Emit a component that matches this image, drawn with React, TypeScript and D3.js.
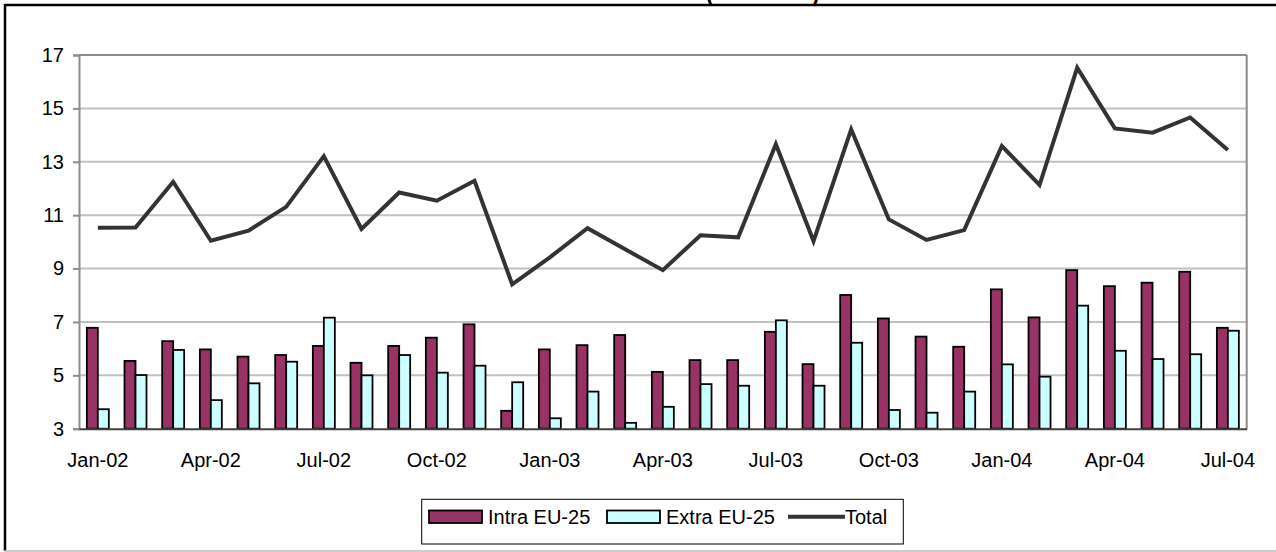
import React, { useRef, useEffect } from "react";
import * as d3 from "d3";

const months = [
  "Jan-02", "Feb-02", "Mar-02", "Apr-02", "May-02", "Jun-02", "Jul-02", "Aug-02", "Sep-02", "Oct-02", "Nov-02", "Dec-02",
  "Jan-03", "Feb-03", "Mar-03", "Apr-03", "May-03", "Jun-03", "Jul-03", "Aug-03", "Sep-03", "Oct-03", "Nov-03", "Dec-03",
  "Jan-04", "Feb-04", "Mar-04", "Apr-04", "May-04", "Jun-04", "Jul-04",
];

const intraEU = [
  6.78, 5.54, 6.28, 5.97, 5.7, 5.76, 6.1, 5.47, 6.1, 6.41, 6.91, 3.67,
  5.97, 6.13, 6.51, 5.13, 5.57, 5.57, 6.63, 5.42, 8.01, 7.13, 6.45, 6.07,
  8.22, 7.17, 8.94, 8.34, 8.47, 8.88, 6.78,
];

const extraEU = [
  3.73, 5.01, 5.95, 4.07, 4.7, 5.51, 7.16, 5.0, 5.76, 5.1, 5.36, 4.74,
  3.39, 4.39, 3.22, 3.82, 4.67, 4.61, 7.06, 4.61, 6.22, 3.7, 3.6, 4.39,
  5.41, 4.95, 7.61, 5.92, 5.61, 5.79, 6.67,
];

const total = [
  10.53, 10.54, 12.25, 10.04, 10.42, 11.31, 13.21, 10.48, 11.85, 11.54, 12.29, 8.41,
  9.42, 10.51, 9.72, 8.94, 10.25, 10.17, 13.66, 10.03, 14.21, 10.84, 10.07, 10.44,
  13.59, 12.13, 16.52, 14.25, 14.09, 14.66, 13.44,
];

const yTicks = [3, 5, 7, 9, 11, 13, 15, 17];
const xTickLabels = ["Jan-02", "Apr-02", "Jul-02", "Oct-02", "Jan-03", "Apr-03", "Jul-03", "Oct-03", "Jan-04", "Apr-04", "Jul-04"];

const W = 1276;
const H = 552;
const FONT = "'Liberation Sans', Arial, sans-serif";

export default function App() {
  const svgRef = useRef<SVGSVGElement>(null);

  useEffect(() => {
    const svg = d3.select(svgRef.current);
    svg.selectAll("*").remove();

    const left = 79, right = 1246.7, top = 55, bottom = 428.7;

    const x = d3.scaleBand<string>().domain(months).range([left, right]).padding(0);
    const y = d3.scaleLinear().domain([3, 17]).range([bottom, top]);
    const barW = x.step() * 0.292;
    const cx = (m: string) => (x(m) as number) + x.bandwidth() / 2;

    // outer frame
    svg.append("line").attr("x1", 5).attr("x2", W).attr("y1", 5).attr("y2", 5)
      .attr("stroke", "#000").attr("stroke-width", 2.5);
    svg.append("line").attr("x1", 5).attr("x2", 5).attr("y1", 4).attr("y2", 551)
      .attr("stroke", "#000").attr("stroke-width", 2.5);
    svg.append("line").attr("x1", 4).attr("x2", W).attr("y1", 551).attr("y2", 551)
      .attr("stroke", "#bbb").attr("stroke-width", 1.5);

    // clipped title remnants (the title sits above the visible area)
    svg.append("text").attr("x", 706).attr("y", 1).attr("font-family", FONT)
      .attr("font-weight", "bold").attr("font-size", 22).text("(");
    svg.append("text").attr("x", 812).attr("y", 1).attr("font-family", FONT)
      .attr("font-weight", "bold").attr("font-size", 22).text(")");

    // gridlines
    svg.append("g").selectAll("line").data(yTicks.slice(1)).join("line")
      .attr("x1", left).attr("x2", right)
      .attr("y1", (d) => y(d)).attr("y2", (d) => y(d))
      .attr("stroke", (d) => (d === 17 ? "#8c8c8c" : "#c0c0c0"))
      .attr("stroke-width", 2);
    svg.append("line").attr("x1", right).attr("x2", right).attr("y1", top).attr("y2", bottom)
      .attr("stroke", "#8c8c8c").attr("stroke-width", 2);

    // y axis
    const yAxis = svg.append("g").attr("transform", `translate(${left},0)`)
      .call(d3.axisLeft(y).tickValues(yTicks).tickSize(6).tickPadding(9).tickFormat(d3.format("d")));
    yAxis.select(".domain").attr("stroke", "#8c8c8c").attr("stroke-width", 2);
    yAxis.selectAll(".tick line").attr("stroke", "#8c8c8c").attr("stroke-width", 2);
    yAxis.selectAll("text").attr("font-family", FONT).attr("font-size", 20).attr("fill", "#000");

    // bars
    const bars = svg.append("g");
    bars.selectAll("rect.intra").data(intraEU).join("rect").attr("class", "intra")
      .attr("x", (_, i) => cx(months[i]) - barW)
      .attr("y", (d) => y(d)).attr("width", barW).attr("height", (d) => y(3) - y(d))
      .attr("fill", "#993366").attr("stroke", "#000").attr("stroke-width", 1.8);
    bars.selectAll("rect.extra").data(extraEU).join("rect").attr("class", "extra")
      .attr("x", (_, i) => cx(months[i]))
      .attr("y", (d) => y(d)).attr("width", barW).attr("height", (d) => y(3) - y(d))
      .attr("fill", "#ccffff").attr("stroke", "#000").attr("stroke-width", 1.8);

    // x axis
    const xAxis = svg.append("g").attr("transform", `translate(0,${bottom})`)
      .call(d3.axisBottom(x).tickValues(xTickLabels).tickSize(0).tickPadding(24));
    xAxis.select(".domain").attr("stroke", "#404040").attr("stroke-width", 2);
    xAxis.selectAll("text").attr("font-family", FONT).attr("font-size", 20).attr("fill", "#000");

    // total line
    const line = d3.line<number>().x((_, i) => cx(months[i])).y((d) => y(d));
    svg.append("path").datum(total).attr("d", line).attr("fill", "none")
      .attr("stroke", "#333333").attr("stroke-width", 4).attr("stroke-linejoin", "miter");

    // legend
    const lg = svg.append("g");
    lg.append("rect").attr("x", 421.7).attr("y", 499.3).attr("width", 481.6).attr("height", 44.7)
      .attr("fill", "#fff").attr("stroke", "#000").attr("stroke-width", 1);
    lg.append("rect").attr("x", 429).attr("y", 510.5).attr("width", 53).attr("height", 12.5)
      .attr("fill", "#993366").attr("stroke", "#000").attr("stroke-width", 1.8);
    lg.append("text").attr("x", 488).attr("y", 523.5).attr("font-family", FONT).attr("font-size", 20).text("Intra EU-25");
    lg.append("rect").attr("x", 607).attr("y", 510.5).attr("width", 53).attr("height", 12.5)
      .attr("fill", "#ccffff").attr("stroke", "#000").attr("stroke-width", 1.8);
    lg.append("text").attr("x", 666).attr("y", 523.5).attr("font-family", FONT).attr("font-size", 20).text("Extra EU-25");
    lg.append("line").attr("x1", 788).attr("x2", 845).attr("y1", 516.8).attr("y2", 516.8)
      .attr("stroke", "#333333").attr("stroke-width", 4);
    lg.append("text").attr("x", 845).attr("y", 523.5).attr("font-family", FONT).attr("font-size", 20).text("Total");
  }, []);

  return (
    <div style={{ position: "fixed", left: 0, top: 0 }}>
      <svg ref={svgRef} width={W} height={H} style={{ display: "block", background: "#fff" }} />
    </div>
  );
}
